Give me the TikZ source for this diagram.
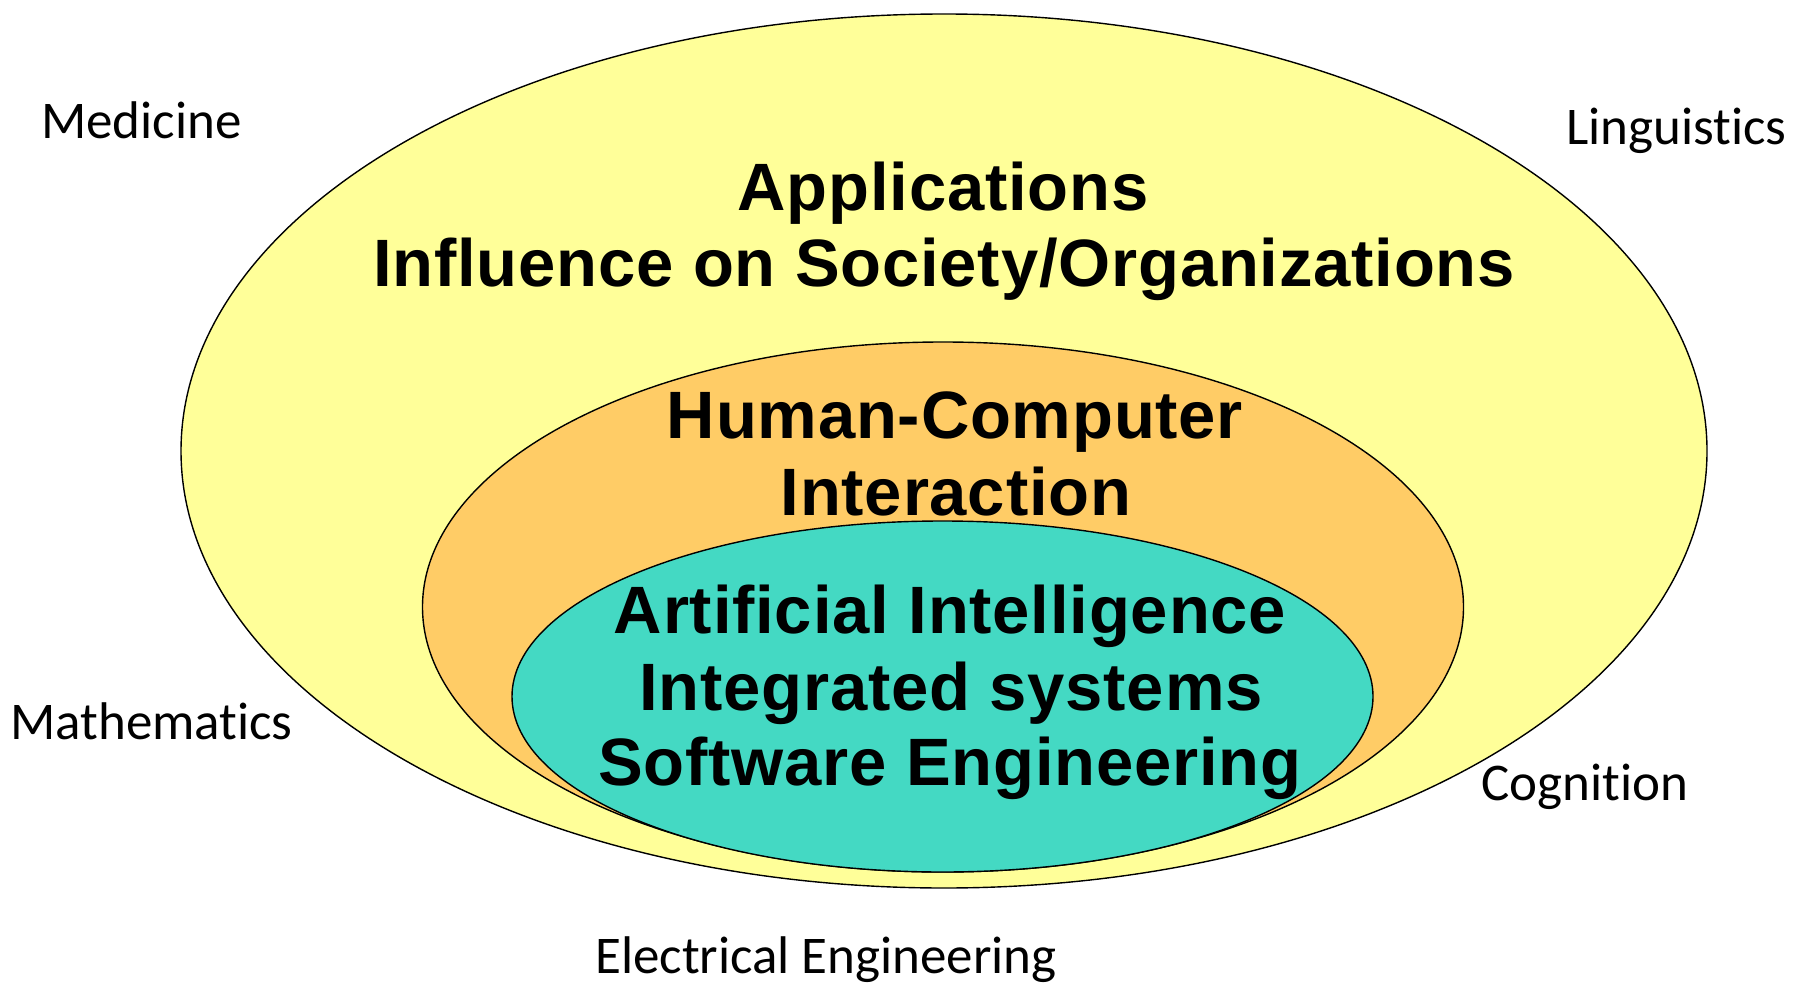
\documentclass[tikz,border=0pt]{standalone}
\usepackage{fontspec}
\usetikzlibrary{shapes.geometric}
\newfontfamily\labfont{Carlito}[Ligatures={NoCommon}]
\newfontfamily\headfont{Liberation Sans}[LetterSpace=1.2]
\definecolor{outerY}{RGB}{255,255,153}
\definecolor{midO}{RGB}{255,204,102}
\definecolor{innerT}{RGB}{68,217,195}
\begin{document}
\begin{tikzpicture}[x=1pt,y=1pt,
  ring/.style={ellipse,draw=black,line width=1.4pt,inner sep=0pt,outer sep=0pt},
  head/.style={anchor=base,inner sep=0pt,font=\headfont\bfseries\fontsize{67}{67}\selectfont},
  lab/.style={anchor=base west,inner sep=0pt,font=\labfont\fontsize{53}{53}\selectfont}]
\useasboundingbox[fill=white] (0,0) rectangle (1803,-987);
\node[ring,fill=outerY,minimum width=1526pt,minimum height=874pt] (outer) at (944,-451) {};
\node[ring,fill=midO,minimum width=1041pt,minimum height=530pt] (mid) at (943,-607) {};
\node[ring,fill=innerT,minimum width=861pt,minimum height=351pt] (inner) at (942.5,-696.5) {};
\node[head] (app1) at (943,-211) {Applications};
\node[head] (app2) at (944,-286) {Influence on Society/Organizations};
\node[head] (hci1) at (955,-438) {Human-Computer};
\node[head] (hci2) at (956,-515) {Interaction};
\node[head] (ai1) at (950,-633) {Artificial Intelligence};
\node[head] (ai2) at (951,-710) {Integrated systems};
\node[head] (ai3) at (950,-785) {Software Engineering};
\node[lab] (med) at (41,-139) {Medicine};
\node[lab] (ling) at (1566,-145) {Linguistics};
\node[lab] (math) at (10,-739) {Mathematics};
\node[lab] (cog) at (1481,-800) {Cognition};
\node[lab] (ee) at (595,-973) {Electrical Engineering};
\end{tikzpicture}
\end{document}
